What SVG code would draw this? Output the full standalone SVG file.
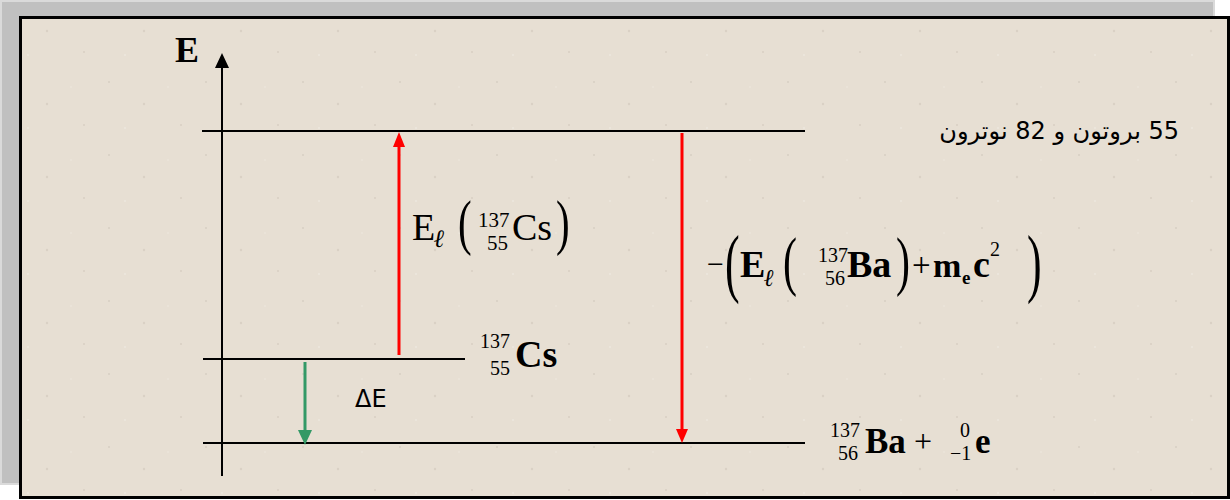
<svg xmlns="http://www.w3.org/2000/svg" width="1230" height="500" viewBox="0 0 1230 500">
<defs>
<style>
.ser{font-family:"Liberation Serif","Times New Roman",serif;fill:#000}
.b{font-weight:bold}
.it{font-style:italic}
.lvl{stroke:#000;stroke-width:2;fill:none}
.red{stroke:#ff0000;stroke-width:3;fill:none}
.grn{stroke:#339966;stroke-width:3;fill:none}
.sans{font-family:"DejaVu Sans","Noto Sans",sans-serif;fill:#000}
</style>
<pattern id="speck" width="97" height="73" patternUnits="userSpaceOnUse">
<rect width="97" height="73" fill="#e7dfd3"/>
<circle cx="12" cy="9" r="1" fill="#d8cfc3"/>
<circle cx="47" cy="31" r="1.2" fill="#dad1c5"/>
<circle cx="71" cy="14" r="0.8" fill="#eee8df"/>
<circle cx="28" cy="55" r="1" fill="#ede7de"/>
<circle cx="84" cy="52" r="1" fill="#d9d0c4"/>
</pattern>
</defs>
<g id="background">
<rect x="1" y="1" width="1213" height="483" fill="#c0c0c0" stroke="#dadada" stroke-width="2"/>
<rect x="20.5" y="17.5" width="1208" height="480" fill="url(#speck)" stroke="#000" stroke-width="3"/>
</g>
<g id="connectors">
<line class="lvl" x1="222" y1="476" x2="222" y2="66"/>
<path d="M215,68 L222,53 L229,68 Z" fill="#000"/>
<line class="lvl" x1="202" y1="131" x2="805" y2="131"/>
<line class="lvl" x1="203" y1="359" x2="465" y2="359"/>
<line class="lvl" x1="203" y1="443" x2="805" y2="443"/>
<line class="red" x1="399" y1="355" x2="399" y2="146"/>
<path d="M393,147 L399,132 L405,147 Z" fill="#ff0000"/>
<line class="red" x1="682" y1="133" x2="682" y2="430"/>
<path d="M676,429 L682,443 L688,429 Z" fill="#ff0000"/>
<line class="grn" x1="305" y1="362" x2="305" y2="432"/>
<path d="M298,430 L305,445 L312,430 Z" fill="#339966"/>
</g>
<g id="axis-label">
<text class="ser b" x="175" y="62" font-size="36">E</text>
</g>
<g id="level-top-label">
<text class="sans" x="1179" y="139" font-size="24" direction="rtl" text-anchor="start">55 بروتون و 82 نوترون</text>
</g>
<g id="transition-cs">
<text class="ser" x="412" y="240" font-size="38">E</text>
<text class="ser b it" x="434" y="247" font-size="25">ℓ</text>
<text class="ser" transform="translate(458,243) scale(1,1.5)" font-size="41">(</text>
<text class="ser" x="478" y="227" font-size="21">137</text>
<text class="ser" x="487" y="250" font-size="21">55</text>
<text class="ser" x="512" y="240" font-size="38">Cs</text>
<text class="ser" transform="translate(556,243) scale(1,1.5)" font-size="41">)</text>
</g>
<g id="transition-ba">
<text class="ser" x="707" y="274" font-size="30">−</text>
<text class="ser" transform="translate(725,288) scale(1,1.75)" font-size="44">(</text>
<text class="ser b" x="740" y="277" font-size="38">E</text>
<text class="ser b it" x="764" y="286" font-size="24">ℓ</text>
<text class="ser" transform="translate(783,283) scale(1,1.55)" font-size="42">(</text>
<text class="ser" x="818" y="262" font-size="20">137</text>
<text class="ser" x="825" y="285" font-size="20">56</text>
<text class="ser b" x="847" y="277" font-size="38">Ba</text>
<text class="ser" transform="translate(896,283) scale(1,1.55)" font-size="42">)</text>
<text class="ser" x="912" y="276" font-size="33">+</text>
<text class="ser b" x="933" y="277" font-size="34">m</text>
<text class="ser b" x="962" y="284" font-size="19">e</text>
<text class="ser b" x="973" y="277" font-size="38">c</text>
<text class="ser" x="990" y="256" font-size="20">2</text>
<text class="ser" transform="translate(1027,288) scale(1,1.75)" font-size="44">)</text>
</g>
<g id="level-cs">
<text class="ser" x="480" y="348" font-size="20">137</text>
<text class="ser" x="490" y="375" font-size="20">55</text>
<text class="ser b" x="515" y="367" font-size="38">Cs</text>
</g>
<g id="level-ba">
<text class="ser" x="830" y="437" font-size="20">137</text>
<text class="ser" x="838" y="460" font-size="20">56</text>
<text class="ser b" x="865" y="453" font-size="35">Ba</text>
<text class="ser" x="914" y="452" font-size="32">+</text>
<text class="ser" x="960" y="437" font-size="20">0</text>
<text class="ser" x="950" y="460" font-size="20">−1</text>
<text class="ser b" x="975" y="453" font-size="35">e</text>
</g>
<g id="delta-e">
<text class="sans" x="355" y="407" font-size="24">ΔE</text>
</g>
</svg>
